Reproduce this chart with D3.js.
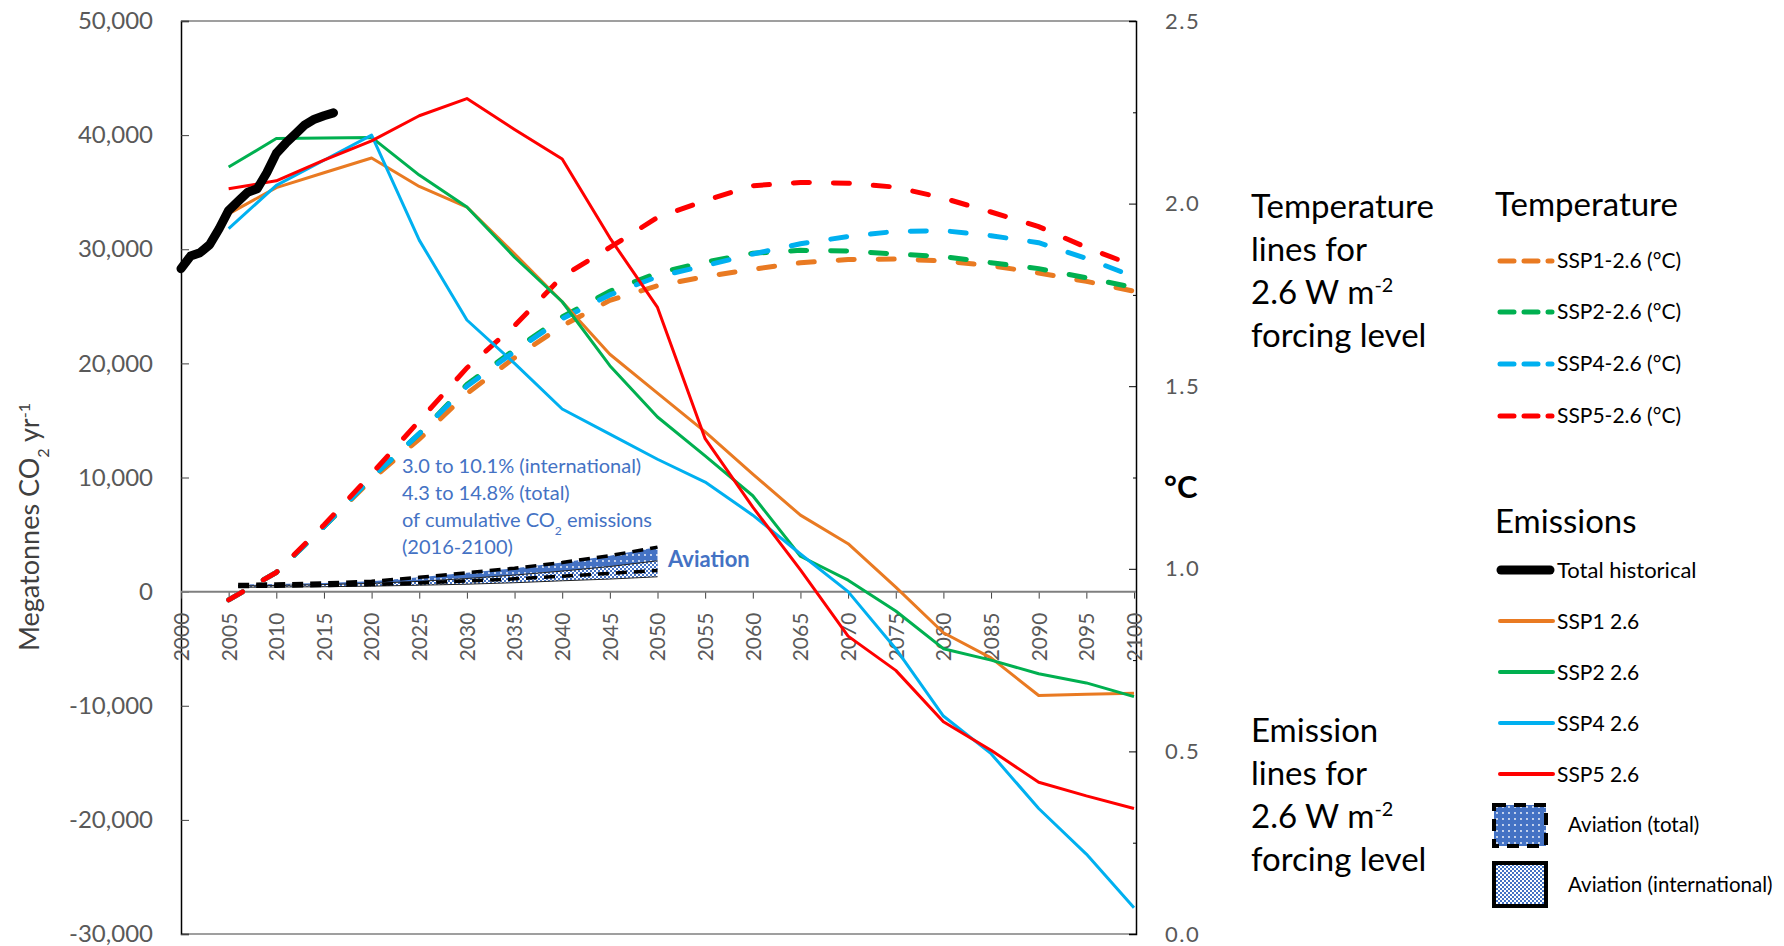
<!DOCTYPE html>
<html>
<head>
<meta charset="utf-8">
<script src="https://cdn.jsdelivr.net/npm/d3@7"></script>
<style>
  body { margin: 0; background: #fff; }
  text { font-family: Lato, "Open Sans", sans-serif; }
</style>
</head>
<body>
<div id="chart"></div>
<script>
// historical total emissions (Mt CO2 / yr)
var histYears = [2000, 2001, 2002, 2003, 2004, 2005, 2006, 2007, 2008, 2009, 2010, 2011, 2012, 2013, 2014, 2015, 2016];
var histValues = [28300, 29400, 29700, 30400, 31800, 33400, 34200, 35000, 35300, 36700, 38400, 39300, 40100, 40900, 41400, 41700, 41950];

// scenario years (emissions + temperature)
var sspYears = [2005, 2010, 2015, 2020, 2025, 2030, 2035, 2040, 2045, 2050, 2055, 2060, 2065, 2070, 2075, 2080, 2085, 2090, 2095, 2100];

// emissions per scenario (Mt CO2 / yr)
var ssp1Emis = [33100, 35400, 36700, 38000, 35500, 33700, 29600, 25400, 20800, 17400, 14000, 10300, 6700, 4200, 400, -3600, -5800, -9100, -9000, -8900];
var ssp2Emis = [37200, 39700, 39750, 39800, 36500, 33700, 29300, 25400, 19800, 15300, 11900, 8400, 3100, 1000, -1700, -5000, -6000, -7200, -8000, -9200];
var ssp4Emis = [31800, 35600, 37800, 40000, 30800, 23800, 20000, 16000, 13800, 11600, 9600, 6700, 3300, 0, -5000, -10900, -14200, -19000, -23000, -27700];
var ssp5Emis = [35300, 36000, 37800, 39500, 41700, 43200, 40500, 37900, 31000, 24900, 13400, 7400, 1900, -3900, -6900, -11400, -13900, -16700, -17900, -19000];

// temperature per scenario (°C)
var ssp1Temp = [0.915, 0.99, 1.115, 1.245, 1.355, 1.48, 1.578, 1.665, 1.735, 1.775, 1.80, 1.82, 1.838, 1.847, 1.848, 1.843, 1.83, 1.81, 1.787, 1.76];
var ssp2Temp = [0.915, 0.99, 1.115, 1.25, 1.37, 1.505, 1.60, 1.69, 1.76, 1.81, 1.84, 1.864, 1.872, 1.87, 1.862, 1.855, 1.838, 1.822, 1.797, 1.77];
var ssp4Temp = [0.915, 0.99, 1.115, 1.25, 1.37, 1.50, 1.595, 1.685, 1.75, 1.80, 1.83, 1.862, 1.89, 1.91, 1.924, 1.926, 1.912, 1.893, 1.85, 1.80];
var ssp5Temp = [0.915, 0.99, 1.12, 1.26, 1.405, 1.55, 1.666, 1.80, 1.88, 1.962, 2.008, 2.049, 2.058, 2.056, 2.045, 2.015, 1.977, 1.937, 1.88, 1.83];

// aviation ranges (Mt CO2 / yr)
var aviYears = [2006, 2010, 2015, 2020, 2025, 2030, 2035, 2040, 2045, 2050];
var aviTotalHigh = [620, 670, 760, 900, 1250, 1650, 2050, 2550, 3150, 3900];
var aviTotalLow = [450, 480, 530, 620, 760, 930, 1120, 1350, 1600, 1850];
var aviIntlHigh = [500, 540, 620, 720, 900, 1150, 1450, 1800, 2200, 2700];
var aviIntlLow = [380, 400, 430, 480, 560, 650, 780, 950, 1100, 1300];

// ticks
var xTicks = [2000, 2005, 2010, 2015, 2020, 2025, 2030, 2035, 2040, 2045, 2050, 2055, 2060, 2065, 2070, 2075, 2080, 2085, 2090, 2095, 2100];
var leftTicks = [-30000, -20000, -10000, 0, 10000, 20000, 30000, 40000, 50000];
var rightTicks = [0, 0.5, 1.0, 1.5, 2.0, 2.5];
var rightMinor = [0.25, 0.75, 1.25, 1.75, 2.25];

var colors = ["#E97A22", "#00B050", "#00B0F0", "#FF0000"];
var emisSeries = [ssp1Emis, ssp2Emis, ssp4Emis, ssp5Emis];
var tempSeries = [ssp1Temp, ssp2Temp, ssp4Temp, ssp5Temp];
var tempLabels = ["SSP1-2.6 (°C)", "SSP2-2.6 (°C)", "SSP4-2.6 (°C)", "SSP5-2.6 (°C)"];
var emisLabels = ["SSP1 2.6", "SSP2 2.6", "SSP4 2.6", "SSP5 2.6"];

function draw() {
    var w = 1784, h = 946;
    var pLeft = 181, pRight = 1136, pTop = 21, pBottom = 934;
    var grey = "#595959";
    var blue = "#4472C4";
    var font = "Lato, 'Open Sans', sans-serif";

    var svg = d3.select("#chart").append("svg")
        .attr("width", w)
        .attr("height", h);

    // patterns for the aviation bands
    var defs = svg.append("defs");
    var dots = defs.append("pattern").attr("id", "dotsBlue")
        .attr("patternUnits", "userSpaceOnUse").attr("width", 6).attr("height", 6);
    dots.append("rect").attr("width", 6).attr("height", 6).attr("fill", blue);
    dots.append("circle").attr("cx", 3).attr("cy", 3).attr("r", 0.9).attr("fill", "#fff");
    var chk = defs.append("pattern").attr("id", "checkBlue")
        .attr("patternUnits", "userSpaceOnUse").attr("width", 4).attr("height", 4);
    chk.append("rect").attr("width", 4).attr("height", 4).attr("fill", "#fff");
    chk.append("rect").attr("width", 2).attr("height", 2).attr("fill", blue);
    chk.append("rect").attr("x", 2).attr("y", 2).attr("width", 2).attr("height", 2).attr("fill", blue);

    // scales
    var x = d3.scaleLinear().domain([2000, 2100]).range([pLeft, 1134]);
    var yL = d3.scaleLinear().domain([-30000, 50000]).range([pBottom, pTop]);
    var yR = d3.scaleLinear().domain([0, 2.5]).range([pBottom, pTop]);

    // frame top / bottom
    svg.append("line").attr("x1", pLeft).attr("x2", pRight).attr("y1", pTop).attr("y2", pTop)
        .attr("stroke", "#7f7f7f").attr("stroke-width", 1.5);
    svg.append("line").attr("x1", pLeft).attr("x2", pRight).attr("y1", pBottom).attr("y2", pBottom)
        .attr("stroke", "#7f7f7f").attr("stroke-width", 1.5);

    // left axis (plain hyphen for negatives, like the original)
    var fmt = d3.format(",");
    var gL = svg.append("g").attr("transform", "translate(" + pLeft + ",0)")
        .call(d3.axisLeft(yL).tickValues(leftTicks).tickSize(-8).tickPadding(28)
            .tickFormat(function(d) { return fmt(d).replace("\u2212", "-"); }));
    gL.select(".domain").attr("stroke", "#000").attr("stroke-width", 1.5);
    gL.selectAll(".tick line").attr("stroke", "#404040");
    gL.selectAll("text").attr("font-size", 24).attr("fill", grey).style("font-family", font);

    // right axis
    var gR = svg.append("g").attr("transform", "translate(" + pRight + ",0)")
        .call(d3.axisRight(yR).tickValues(rightTicks).tickSize(-7).tickPadding(29).tickFormat(d3.format(".1f")));
    gR.select(".domain").attr("stroke", "#000").attr("stroke-width", 1.5);
    gR.selectAll("text").attr("font-size", 22).attr("fill", grey).attr("letter-spacing", 1.5)
        .style("font-family", font);
    var gR2 = svg.append("g").attr("transform", "translate(" + pRight + ",0)")
        .call(d3.axisRight(yR).tickValues(rightMinor).tickSize(-3).tickFormat(""));
    gR2.select(".domain").remove();

    // x axis on the zero line, labels turned upright
    var gX = svg.append("g").attr("transform", "translate(0," + yL(0) + ")")
        .call(d3.axisBottom(x).tickValues(xTicks).tickSize(7).tickFormat(d3.format("d")));
    gX.select(".domain").remove();
    gX.selectAll(".tick line").attr("stroke", "#404040");
    gX.selectAll("text")
        .attr("transform", "rotate(-90)")
        .attr("text-anchor", "end")
        .attr("x", -21)
        .attr("y", 0)
        .attr("dy", "0.35em")
        .attr("font-size", 21)
        .attr("fill", grey)
        .style("font-family", font);
    svg.append("line").attr("x1", pLeft).attr("x2", pRight).attr("y1", yL(0)).attr("y2", yL(0))
        .attr("stroke", "#7f7f7f").attr("stroke-width", 2);

    // aviation bands
    var aviTotal = aviYears.map(function(d, i) { return { year: d, lo: aviTotalLow[i], hi: aviTotalHigh[i] }; });
    var aviIntl = aviYears.map(function(d, i) { return { year: d, lo: aviIntlLow[i], hi: aviIntlHigh[i] }; });
    var band = d3.area()
        .x(function(d) { return x(d.year); })
        .y0(function(d) { return yL(d.lo); })
        .y1(function(d) { return yL(d.hi); });
    var edgeHi = d3.line().x(function(d) { return x(d.year); }).y(function(d) { return yL(d.hi); });
    var edgeLo = d3.line().x(function(d) { return x(d.year); }).y(function(d) { return yL(d.lo); });

    svg.append("path").datum(aviTotal).attr("d", band).attr("fill", "url(#dotsBlue)");
    svg.append("path").datum(aviIntl).attr("d", band).attr("fill", "url(#checkBlue)");
    svg.append("path").datum(aviIntl).attr("d", edgeLo).attr("fill", "none").attr("stroke", "#222").attr("stroke-width", 1);
    svg.append("path").datum(aviIntl).attr("d", edgeHi).attr("fill", "none").attr("stroke", "#222").attr("stroke-width", 1);
    [edgeHi, edgeLo].forEach(function(gen) {
        svg.append("path").datum(aviTotal).attr("d", gen)
            .attr("fill", "none").attr("stroke", "#000").attr("stroke-width", 3.5)
            .attr("stroke-dasharray", "11,7");
    });

    // temperature lines (right axis)
    var tempLine = d3.line()
        .x(function(d) { return x(d[0]); })
        .y(function(d) { return yR(d[1]); });
    tempSeries.forEach(function(s, i) {
        svg.append("path")
            .datum(sspYears.map(function(yr, j) { return [yr, s[j]]; }))
            .attr("d", tempLine)
            .attr("fill", "none")
            .attr("stroke", colors[i])
            .attr("stroke-width", 5)
            .attr("stroke-linecap", "round")
            .attr("stroke-dasharray", "16,24");
    });

    // emission lines (left axis)
    var emisLine = d3.line()
        .x(function(d) { return x(d[0]); })
        .y(function(d) { return yL(d[1]); });
    emisSeries.forEach(function(s, i) {
        svg.append("path")
            .datum(sspYears.map(function(yr, j) { return [yr, s[j]]; }))
            .attr("d", emisLine)
            .attr("fill", "none")
            .attr("stroke", colors[i])
            .attr("stroke-width", 3)
            .attr("stroke-linejoin", "round");
    });

    svg.append("path")
        .datum(histYears.map(function(yr, j) { return [yr, histValues[j]]; }))
        .attr("d", emisLine)
        .attr("fill", "none")
        .attr("stroke", "#000")
        .attr("stroke-width", 9)
        .attr("stroke-linecap", "round")
        .attr("stroke-linejoin", "round");

    // text line with optional sub/superscript parts
    function addText(g, tx, ty, parts, size, color, weight) {
        var t = g.append("text").attr("x", tx).attr("y", ty)
            .attr("font-size", size).attr("fill", color).attr("font-weight", weight || "normal");
        parts.forEach(function(p) {
            var ts = t.append("tspan").text(p.t);
            if (p.sup) ts.attr("baseline-shift", "super").attr("font-size", size * 0.6);
            if (p.sub) ts.attr("baseline-shift", "sub").attr("font-size", size * 0.6);
        });
        return t;
    }

    // y axis title
    var yTitle = addText(svg, 0, 0, [{ t: "Megatonnes CO" }, { t: "2", sub: true }, { t: " yr" }, { t: "-1", sup: true }], 27, "#404040");
    yTitle.attr("text-anchor", "middle").attr("transform", "translate(39,527) rotate(-90)");

    // °C label
    svg.append("text").attr("x", 1164).attr("y", 498).attr("font-size", 31)
        .attr("font-weight", "bold").attr("fill", "#000").text("°C");

    // annotation
    var note = [
        [{ t: "3.0 to 10.1% (international)" }],
        [{ t: "4.3 to 14.8% (total)" }],
        [{ t: "of cumulative CO" }, { t: "2", sub: true }, { t: " emissions" }],
        [{ t: "(2016-2100)" }]
    ];
    note.forEach(function(p, i) { addText(svg, 402, 473 + i * 27, p, 20, blue); });
    addText(svg, 668, 567, [{ t: "Aviation" }], 22, blue, "bold");

    // side captions
    var sideTemp = [[{ t: "Temperature" }], [{ t: "lines for" }], [{ t: "2.6 W m" }, { t: "-2", sup: true }], [{ t: "forcing level" }]];
    var sideEmis = [[{ t: "Emission" }], [{ t: "lines for" }], [{ t: "2.6 W m" }, { t: "-2", sup: true }], [{ t: "forcing level" }]];
    sideTemp.forEach(function(p, i) { addText(svg, 1251, 218 + i * 43, p, 33, "#000"); });
    sideEmis.forEach(function(p, i) { addText(svg, 1251, 742 + i * 43, p, 33, "#000"); });

    // legend: temperature
    addText(svg, 1495, 216, [{ t: "Temperature" }], 33, "#000");
    var tempRows = [261, 312, 364, 416];
    tempLabels.forEach(function(lab, i) {
        svg.append("line").attr("x1", 1500).attr("x2", 1552).attr("y1", tempRows[i]).attr("y2", tempRows[i])
            .attr("stroke", colors[i]).attr("stroke-width", 5).attr("stroke-linecap", "round")
            .attr("stroke-dasharray", "14,10");
        addText(svg, 1557, tempRows[i] + 7, [{ t: lab }], 21, "#000");
    });

    // legend: emissions
    addText(svg, 1495, 533, [{ t: "Emissions" }], 33, "#000");
    svg.append("line").attr("x1", 1501).attr("x2", 1550).attr("y1", 570).attr("y2", 570)
        .attr("stroke", "#000").attr("stroke-width", 9).attr("stroke-linecap", "round");
    addText(svg, 1557, 578, [{ t: "Total historical" }], 22, "#000");
    var emisRows = [621, 672, 723, 774];
    emisLabels.forEach(function(lab, i) {
        svg.append("line").attr("x1", 1500).attr("x2", 1553).attr("y1", emisRows[i]).attr("y2", emisRows[i])
            .attr("stroke", colors[i]).attr("stroke-width", 4).attr("stroke-linecap", "round");
        addText(svg, 1557, emisRows[i] + 8, [{ t: lab }], 21, "#000");
    });

    svg.append("rect").attr("x", 1494).attr("y", 805).attr("width", 52).attr("height", 41)
        .attr("fill", "url(#dotsBlue)").attr("stroke", "#000").attr("stroke-width", 4)
        .attr("stroke-dasharray", "12,8");
    addText(svg, 1568, 832, [{ t: "Aviation (total)" }], 20.5, "#000");
    svg.append("rect").attr("x", 1494).attr("y", 863).attr("width", 52).attr("height", 43)
        .attr("fill", "url(#checkBlue)").attr("stroke", "#000").attr("stroke-width", 4);
    addText(svg, 1568, 892, [{ t: "Aviation (international)" }], 20.5, "#000");
}

draw();
</script>
</body>
</html>
